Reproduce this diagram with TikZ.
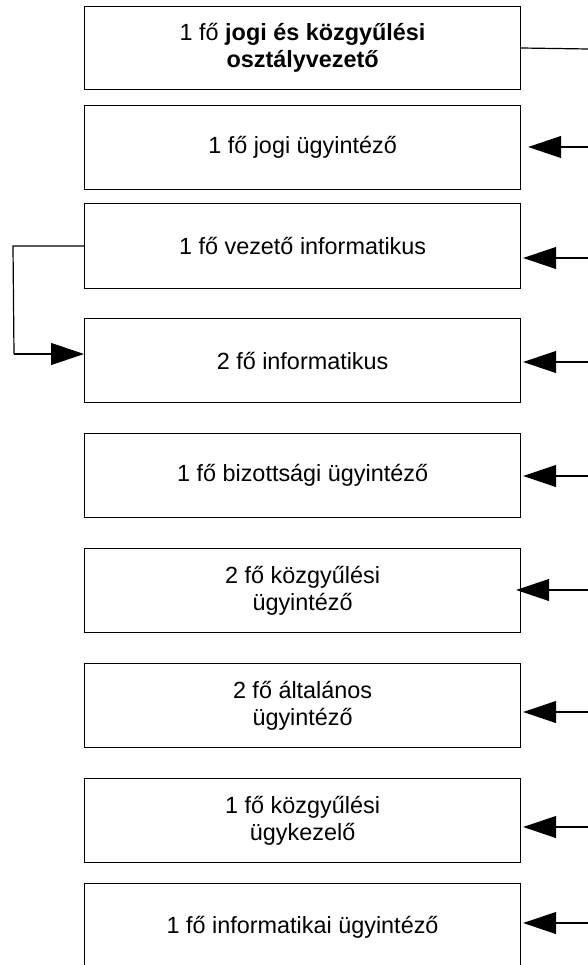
\documentclass[tikz,border=0pt]{standalone}
\usepackage{fontspec}
\setmainfont{Liberation Sans}
\usetikzlibrary{arrows.meta}
\begin{document}
\begin{tikzpicture}[x=1pt,y=-1pt,
  box/.style={draw, line width=1.2pt, minimum width=436pt, inner sep=0pt, align=center,
    font=\fontsize{23.4}{27}\selectfont, anchor=north west},
  conn/.style={line width=1.2pt},
  arr/.style={line width=1.2pt, -{Triangle[length=33pt,width=22pt]}}]
\useasboundingbox (0,0) rectangle (588,965);
\clip (0,0) rectangle (588,965);
\node[box, minimum height=83pt] (b1) at (84,6) {1 fő \textbf{jogi és közgyűlési}\\\textbf{osztályvezető}};
\node[box, minimum height=84pt] (b2) at (84,105) {1 fő jogi ügyintéző};
\node[box, minimum height=85pt] (b3) at (84,203) {1 fő vezető informatikus};
\node[box, minimum height=84pt] (b4) at (84,318) {2 fő informatikus};
\node[box, minimum height=84pt] (b5) at (84,433) {1 fő bizottsági ügyintéző};
\node[box, minimum height=84pt] (b6) at (84,548) {2 fő közgyűlési\\ügyintéző};
\node[box, minimum height=84pt] (b7) at (84,663) {2 fő általános\\ügyintéző};
\node[box, minimum height=84pt] (b8) at (84,778) {1 fő közgyűlési\\ügykezelő};
\node[box, minimum height=88pt] (b9) at (84,883) {1 fő informatikai ügyintéző};
% top line
\coordinate (r1) at (588,49);
\draw[conn] (b1.east |- 0,48) -- (r1);
% right arrows
\coordinate (r2) at (588,147);
\coordinate (r3) at (588,258);
\coordinate (r4) at (588,362);
\coordinate (r5) at (588,476);
\coordinate (r6) at (588,590);
\coordinate (r7) at (588,712);
\coordinate (r8) at (588,827);
\coordinate (r9) at (588,923);
\draw[arr, shorten >=7pt] (r2) -- (r2 -| b2.east);
\draw[arr, shorten >=2pt] (r3) -- (r3 -| b3.east);
\draw[arr, shorten >=2pt] (r4) -- (r4 -| b4.east);
\draw[arr, shorten >=2pt] (r5) -- (r5 -| b5.east);
\draw[arr, shorten >=-5pt] (r6) -- (r6 -| b6.east);
\draw[arr, shorten >=2pt] (r7) -- (r7 -| b7.east);
\draw[arr, shorten >=2pt] (r8) -- (r8 -| b8.east);
\draw[arr, shorten >=2pt] (r9) -- (r9 -| b9.east);
% left connector
\coordinate (l1) at (13,246);
\coordinate (l2) at (14,354);
\draw[conn] (b3.west |- l1) -- (l1) -- (l2);
\draw[arr] (l2) -- (l2 -| b4.west);
\end{tikzpicture}
\end{document}
